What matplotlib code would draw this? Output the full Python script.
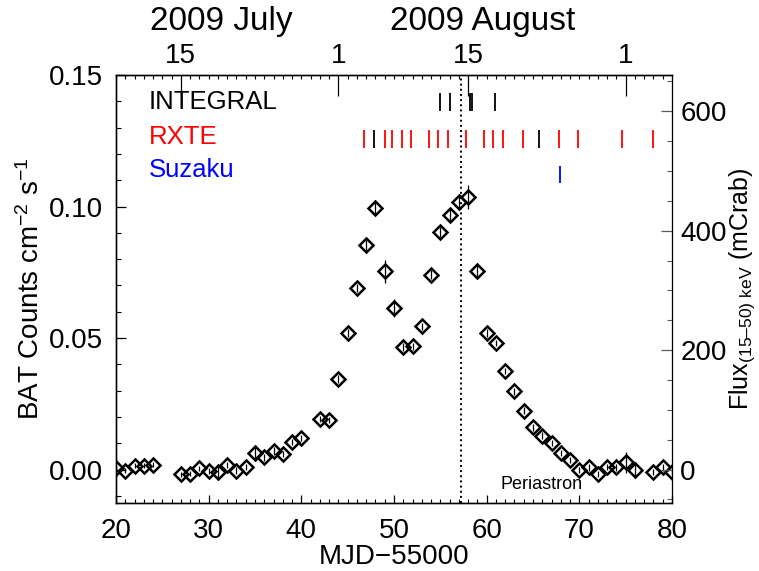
import numpy as np
import matplotlib
matplotlib.use('Agg')
import matplotlib.pyplot as plt
from matplotlib.ticker import MultipleLocator, FixedLocator

plt.rcParams['font.family'] = ['Liberation Sans', 'DejaVu Sans']
plt.rcParams['mathtext.fontset'] = 'custom'
plt.rcParams['mathtext.rm'] = 'Liberation Sans'
plt.rcParams['mathtext.it'] = 'Liberation Sans'
plt.rcParams['mathtext.default'] = 'regular'

# BAT daily light curve (MJD - 55000)
days = [20, 21, 22, 23, 24, 27, 28, 29, 30, 31, 32, 33, 34, 35, 36, 37, 38, 39, 40,
        42, 43, 44, 45, 46, 47, 48, 49, 50, 51, 52, 53, 54, 55, 56, 57, 58, 59, 60,
        61, 62, 63, 64, 65, 66, 67, 68, 69, 70, 71, 72, 73, 74, 75, 76, 78, 79, 80]
rate = [0.0005, -0.0004, 0.0015, 0.0015, 0.0019, -0.0018, -0.0015, 0.0005, -0.0005,
        -0.0011, 0.0017, -0.0004, 0.0011, 0.0062, 0.0046, 0.0070, 0.0060, 0.0106, 0.0121,
        0.0192, 0.0188, 0.0345, 0.0519, 0.0690, 0.0852, 0.0996, 0.0753, 0.0614, 0.0465,
        0.0468, 0.0544, 0.0740, 0.0904, 0.0967, 0.1018, 0.1036, 0.0753, 0.0519, 0.0481,
        0.0375, 0.0297, 0.0224, 0.0160, 0.0129, 0.0100, 0.0062, 0.0037, -0.0001, 0.0008,
        -0.0016, 0.0009, 0.0008, 0.0027, -0.0001, -0.0010, 0.0008, -0.0008]
rate_err = [0.001, 0.001, 0.001, 0.001, 0.001, 0.001, 0.001, 0.001, 0.001, 0.003,
            0.0012, 0.0012, 0.0012, 0.003, 0.0015, 0.0015, 0.0012, 0.0012, 0.0012,
            0.0012, 0.0012, 0.0015, 0.0015, 0.0015, 0.002, 0.003, 0.0045, 0.0035, 0.0015,
            0.0015, 0.0015, 0.0017, 0.002, 0.0025, 0.003, 0.0045, 0.0025, 0.0015, 0.0012,
            0.0012, 0.0012, 0.0012, 0.0012, 0.0012, 0.0012, 0.0012, 0.0012, 0.0012, 0.0012,
            0.0012, 0.0012, 0.0012, 0.004, 0.003, 0.0012, 0.0012, 0.0012]

# pointed observations
integral_obs = [54.95, 56.06, 58.25, 58.47, 60.95]
rxte_obs = [46.8, 49.0, 49.8, 50.9, 51.8, 53.8, 54.8, 55.8, 57.75, 59.7, 60.7, 61.8,
            63.9, 67.8, 69.85, 74.6, 77.9]
rxte_other = [47.8, 65.7]
suzaku_obs = [67.9]

periastron = 57.2
crab_rate = 0.000227  # counts per mCrab

top_ticks = [27, 44, 58, 75]
top_labels = ['15', '1', '15', '1']

fig = plt.figure(figsize=(7.59, 5.71), dpi=100)
ax = fig.add_axes([0.1528, 0.1191, 0.7326, 0.7496])

ax.errorbar(days, rate, yerr=rate_err, fmt='D', ms=7.5, mfc='none', mec='k', mew=1.8,
            ecolor='k', elinewidth=0.9, capsize=0, zorder=3)

ax.axvline(periastron, color='k', ls=':', lw=1.4)
ax.text(periastron + 8.7, -0.0058, 'Periastron', fontsize=13, ha='center', va='center')

ax.vlines(integral_obs, 0.1364, 0.1432, color='k', lw=1.3)
ax.vlines(rxte_obs, 0.1224, 0.1291, color='red', lw=1.3)
ax.vlines(rxte_other, 0.1224, 0.1291, color='k', lw=1.3)
ax.vlines(suzaku_obs, 0.1089, 0.1154, color='blue', lw=1.3)

ax.text(23.5, 0.1398, 'INTEGRAL', color='k', fontsize=18.5, va='center')
ax.text(23.5, 0.1265, 'RXTE', color='red', fontsize=18.5, va='center')
ax.text(23.5, 0.1139, 'Suzaku', color='blue', fontsize=18.5, va='center')

ax.set_xlim(20, 80)
ax.set_ylim(-0.0127, 0.15)
ax.xaxis.set_major_locator(MultipleLocator(10))
ax.xaxis.set_minor_locator(MultipleLocator(1))
ax.yaxis.set_major_locator(MultipleLocator(0.05))
ax.yaxis.set_minor_locator(MultipleLocator(0.01))
ax.yaxis.set_major_formatter(plt.FormatStrFormatter('%.2f'))
ax.tick_params(axis='x', which='major', direction='in', length=6, width=0.9,
               labelsize=20, pad=11, top=False)
ax.tick_params(axis='x', which='minor', direction='in', length=3, width=0.8, top=False)
ax.tick_params(axis='y', which='major', direction='in', length=7.5, width=0.9,
               labelsize=20, pad=9, right=False)
ax.tick_params(axis='y', which='minor', direction='in', length=3.6, width=0.8, right=False)
ax.set_xlabel('MJD\u221255000', fontsize=20, labelpad=0)
ax.set_ylabel('BAT Counts cm$^{-2}$ s$^{-1}$', fontsize=20, labelpad=3)

# right axis in mCrab
axr = ax.twinx()
axr.set_ylim(ax.get_ylim()[0] / crab_rate, ax.get_ylim()[1] / crab_rate)
axr.yaxis.set_major_locator(MultipleLocator(200))
axr.yaxis.set_minor_locator(MultipleLocator(50))
axr.tick_params(axis='y', which='major', direction='in', length=8, width=0.9,
                labelsize=20, pad=6, color='0.35')
axr.tick_params(axis='y', which='minor', direction='in', length=3.6, width=0.8, color='0.35')
axr.spines['right'].set_color('0.35')
axr.set_ylabel('Flux$_{(15\u201350)\\ keV}$ (mCrab)', fontsize=18, labelpad=0)

# top axis with calendar dates
axt = ax.twiny()
axt.set_xlim(ax.get_xlim())
axt.xaxis.set_major_locator(FixedLocator(top_ticks))
axt.set_xticklabels(top_labels)
axt.xaxis.set_minor_locator(MultipleLocator(1))
axt.tick_params(axis='x', which='major', direction='in', length=15, width=0.9,
                labelsize=20, pad=4)
axt.tick_params(axis='x', which='minor', direction='in', length=3.2, width=0.8)
fig.text(0.291, 0.962, '2009 July', fontsize=24, ha='center', va='center')
fig.text(0.636, 0.962, '2009 August', fontsize=24, ha='center', va='center')

for a in (ax, axr, axt):
    for s in ('left', 'bottom', 'top'):
        a.spines[s].set_linewidth(0.9)

fig.savefig('out.png', dpi=100)
